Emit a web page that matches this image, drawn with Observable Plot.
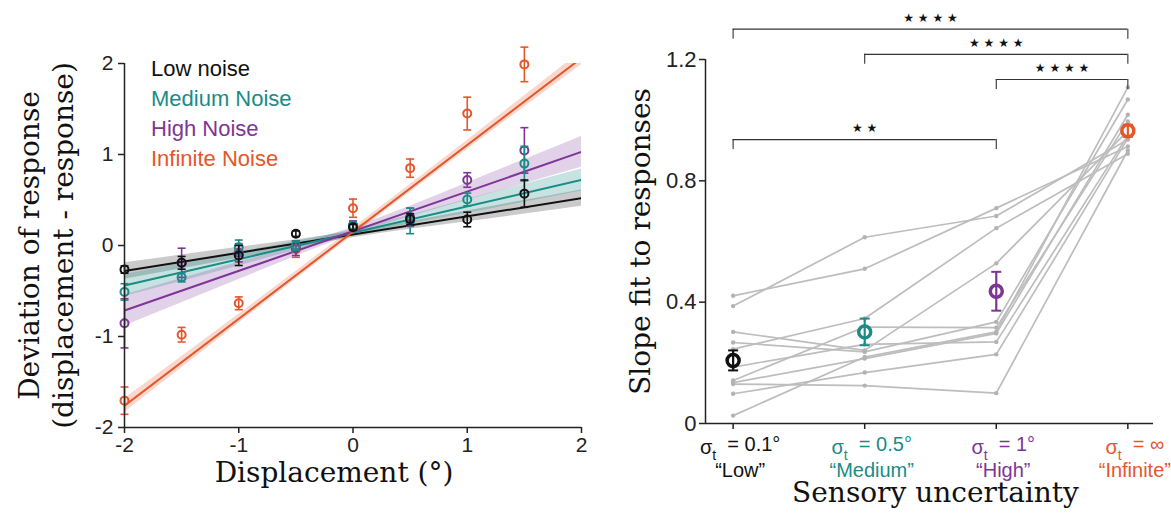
<!DOCTYPE html>
<html><head><meta charset="utf-8">
<script src="https://cdn.jsdelivr.net/npm/d3@7"></script>
<script src="https://cdn.jsdelivr.net/npm/@observablehq/plot@0.6"></script>
<style>
body{margin:0;background:#fff;}
#wrap{position:relative;width:1171px;height:516px;overflow:hidden;background:#fff;}
#left{position:absolute;left:0;top:0;}
#right{position:absolute;left:600px;top:0;}
#legend{position:absolute;left:151px;top:54px;font-family:"Liberation Sans",Arial,sans-serif;font-size:22px;line-height:30px;}
svg{overflow:visible;}
</style></head><body>
<div id="wrap"><div id="left"></div><div id="right"></div><div id="legend"></div></div>
<script>
// ---------- LEFT PANEL DATA ----------
const displacement = [-2, -1.5, -1, -0.5, 0, 0.5, 1, 1.5];
const noiseLevels = ["Low noise", "Medium Noise", "High Noise", "Infinite Noise"];
const noiseColors = ["#111111", "#1b8b86", "#7e3596", "#e4572b"];
const bandColors  = ["#8a8a8a", "#1b8b86", "#8a4aa6", "#ec7a55"];
const bandOpacity = [0.45, 0.25, 0.25, 0.3];

const lowMean  = [-0.264, -0.19, -0.11, 0.13, 0.20, 0.29, 0.286, 0.57];
const lowErr   = [0.04, 0.07, 0.11, 0.03, 0.03, 0.06, 0.08, 0.15];
const medMean  = [-0.51, -0.35, -0.02, 0.0, 0.22, 0.27, 0.506, 0.90];
const medErr   = [0.09, 0.05, 0.08, 0.05, 0.04, 0.14, 0.07, 0.19];
const highMean = [-0.855, -0.19, -0.08, -0.03, 0.22, 0.31, 0.72, 1.045];
const highErr  = [0.27, 0.16, 0.10, 0.08, 0.05, 0.10, 0.08, 0.25];
const infMean  = [-1.705, -0.98, -0.635, -0.04, 0.41, 0.85, 1.45, 1.99];
const infErr   = [0.15, 0.08, 0.07, 0.09, 0.10, 0.10, 0.18, 0.19];

// linear fits (intercept, slope) and confidence band half-widths
const fitIntercept = [0.12, 0.14, 0.157, 0.15];
const fitSlope     = [0.20, 0.29, 0.436, 0.955];
const bandX        = [-2, -1, 0, 1, 2];
const bandLow      = [0.09, 0.06, 0.035, 0.06, 0.09];
const bandMed      = [0.12, 0.075, 0.035, 0.075, 0.12];
const bandHigh     = [0.17, 0.095, 0.04, 0.095, 0.17];
const bandInf      = [0.075, 0.05, 0.04, 0.05, 0.075];
const fitRange     = [-2, 2];

const leftTicks = [-2, -1, 0, 1, 2];

// ---------- RIGHT PANEL DATA ----------
const uncertaintyLevels = ["Low", "Medium", "High", "Infinite"];
const sigmaValues = ["0.1°", "0.5°", "1°", "∞"];
const levelNames = ["“Low”", "“Medium”", "“High”", "“Infinite”"];
const slopeLow      = [0.387, 0.421, 0.245, 0.302, 0.267, 0.142, 0.135, 0.186, 0.098, 0.026, 0.130];
const slopeMedium   = [0.614, 0.510, 0.346, 0.241, 0.236, 0.318, 0.214, 0.261, 0.168, 0.219, 0.125];
const slopeHigh     = [0.684, 0.710, 0.644, 0.528, 0.335, 0.316, 0.297, 0.269, 0.228, 0.302, 0.100];
const slopeInfinite = [0.936, 0.913, 0.889, 0.965, 1.068, 0.996, 1.018, 0.950, 0.940, 1.108, 0.900];
const slopeMean = [0.208, 0.302, 0.436, 0.965];
const slopeSem  = [0.033, 0.044, 0.064, 0.02];
const rightTicks = [0, 0.4, 0.8, 1.2];

const sigFrom  = [0, 1, 2, 0];
const sigTo    = [3, 3, 3, 2];
const sigLevel = [1.30, 1.217, 1.134, 0.936];
const sigLabel = ["★ ★ ★ ★", "★ ★ ★ ★", "★ ★ ★ ★", "★ ★"];

// ---------- helpers ----------
const capSymbol = {draw(ctx, size) { const w = Math.sqrt(size / Math.PI); ctx.moveTo(-w, 0); ctx.lineTo(w, 0); }};
const sansFont = '"Liberation Sans", Arial, sans-serif';
const serifFont = '"DejaVu Serif", serif';

// ---------- LEFT PANEL ----------
const meanSeries = [lowMean, medMean, highMean, infMean];
const errSeries = [lowErr, medErr, highErr, infErr];
const bandSeries = [bandLow, bandMed, bandHigh, bandInf];

const leftMarks = [];
for (let i = 0; i < 4; i++) {
  const rows = bandX.map((x, j) => {
    const c = fitIntercept[i] + fitSlope[i] * x;
    return {x, lo: c - bandSeries[i][j], hi: c + bandSeries[i][j]};
  });
  leftMarks.push(Plot.areaY(rows, {x: "x", y1: "lo", y2: "hi", fill: bandColors[i], fillOpacity: bandOpacity[i], curve: "natural", clip: true}));
}
for (let i = 0; i < 4; i++) {
  const rows = fitRange.map(x => ({x, y: fitIntercept[i] + fitSlope[i] * x}));
  leftMarks.push(Plot.line(rows, {x: "x", y: "y", stroke: noiseColors[i], strokeWidth: 2, clip: true}));
}
for (let i = 3; i >= 0; i--) {
  const rows = displacement.map((x, j) => ({x, y: meanSeries[i][j], e: errSeries[i][j]}));
  leftMarks.push(Plot.ruleX(rows, {x: "x", y1: d => d.y - d.e, y2: d => d.y + d.e, stroke: noiseColors[i], strokeWidth: 1.6}));
  leftMarks.push(Plot.dot(rows, {x: "x", y: d => d.y - d.e, symbol: capSymbol, r: 4, stroke: noiseColors[i], strokeWidth: 1.6}));
  leftMarks.push(Plot.dot(rows, {x: "x", y: d => d.y + d.e, symbol: capSymbol, r: 4, stroke: noiseColors[i], strokeWidth: 1.6}));
  leftMarks.push(Plot.dot(rows, {x: "x", y: "y", r: 4, stroke: noiseColors[i], strokeWidth: 2, fill: "none"}));
}

const leftPlot = Plot.plot({
  width: 600, height: 516,
  marginLeft: 124, marginRight: 19, marginTop: 63, marginBottom: 89,
  x: {domain: [-2, 2]},
  y: {domain: [-2, 2]},
  style: {fontFamily: sansFont, fontSize: "21px", background: "transparent", color: "#222"},
  marks: [
    ...leftMarks,
    Plot.ruleX([-2], {y1: -2, y2: 2, stroke: "#222", strokeWidth: 1.5}),
    Plot.ruleY([-2], {x1: -2, x2: 2, stroke: "#222", strokeWidth: 1.5}),
    Plot.axisX({ticks: leftTicks, tickFormat: d => String(d), tickSize: 6, tickPadding: 4, strokeWidth: 1.5, label: null, fontSize: 21}),
    Plot.axisY({ticks: leftTicks, tickFormat: d => String(d), tickSize: 6, tickPadding: 5, strokeWidth: 1.5, label: null, fontSize: 21}),
    Plot.text(["Deviation of response\n(displacement - response)"], {text: d => d, frameAnchor: "left", textAnchor: "middle", lineAnchor: "middle", rotate: -90, dx: -79, fontFamily: serifFont, fontSize: 28, lineHeight: 1.21, fill: "#111"}),
    Plot.text(["Displacement (°)"], {text: d => d, frameAnchor: "bottom", textAnchor: "middle", lineAnchor: "middle", dx: -19, dy: 46, fontFamily: serifFont, fontSize: 28, fill: "#111"})
  ]
});
document.getElementById("left").appendChild(leftPlot);

// legend
const legend = document.getElementById("legend");
noiseLevels.forEach((name, i) => {
  const div = document.createElement("div");
  div.textContent = name;
  div.style.color = noiseColors[i];
  legend.appendChild(div);
});

// ---------- RIGHT PANEL ----------
const slopeSeries = [slopeLow, slopeMedium, slopeHigh, slopeInfinite];
const subjectRows = [];
slopeLow.forEach((_, s) => {
  slopeSeries.forEach((arr, c) => subjectRows.push({subject: s, c, v: arr[s]}));
});
const meanRows = slopeMean.map((m, c) => ({c, m, e: slopeSem[c]}));
const sigRows = sigFrom.map((f, k) => ({f, t: sigTo[k], y: sigLevel[k], label: sigLabel[k]}));
const legDrop = 0.033;

const rightMarks = [
  Plot.line(subjectRows, {x: "c", y: "v", z: "subject", stroke: "#bdbdbd", strokeWidth: 1.7}),
  Plot.dot(subjectRows, {x: "c", y: "v", r: 2.2, fill: "#b3b3b3"})
];
meanRows.forEach(d => {
  const col = noiseColors[d.c];
  rightMarks.push(Plot.dot([d], {x: "c", y: "m", r: 6, stroke: col, strokeWidth: 3.5, fill: "white"}));
  rightMarks.push(Plot.ruleX([d], {x: "c", y1: r => r.m - r.e, y2: r => r.m + r.e, stroke: col, strokeWidth: 2.2}));
  rightMarks.push(Plot.dot([d], {x: "c", y: r => r.m - r.e, symbol: capSymbol, r: 5, stroke: col, strokeWidth: 2}));
  rightMarks.push(Plot.dot([d], {x: "c", y: r => r.m + r.e, symbol: capSymbol, r: 5, stroke: col, strokeWidth: 2}));
});
rightMarks.push(
  Plot.ruleY(sigRows, {y: "y", x1: "f", x2: "t", stroke: "#333", strokeWidth: 1.1}),
  Plot.ruleX(sigRows, {x: "f", y1: "y", y2: d => d.y - legDrop, stroke: "#333", strokeWidth: 1.1}),
  Plot.ruleX(sigRows, {x: "t", y1: "y", y2: d => d.y - legDrop, stroke: "#333", strokeWidth: 1.1}),
  Plot.text(sigRows, {x: d => (d.f + d.t) / 2, y: "y", text: "label", dy: -11, fontSize: 12, fontFamily: '"DejaVu Sans", sans-serif', fill: "#111"})
);
uncertaintyLevels.forEach((lvl, c) => {
  rightMarks.push(Plot.text([c], {x: d => d, y: () => 0, text: () => `σt = ${sigmaValues[c]}\n${levelNames[c]}`, lineAnchor: "top", dy: 12, dx: 7, fontSize: 20, lineHeight: 1.3, fill: noiseColors[c], fontFamily: sansFont}));
});

const rightPlot = Plot.plot({
  width: 571, height: 516,
  marginLeft: 105, marginRight: 18, marginTop: 59, marginBottom: 93,
  x: {domain: [-0.21, 3.195]},
  y: {domain: [0, 1.2]},
  style: {fontFamily: sansFont, fontSize: "21px", background: "transparent", color: "#222"},
  marks: [
    ...rightMarks,
    Plot.ruleX([-0.21], {y1: 0, y2: 1.2, stroke: "#222", strokeWidth: 1.5}),
    Plot.ruleY([0], {x1: -0.21, x2: 3.195, stroke: "#222", strokeWidth: 1.5}),
    Plot.axisX({ticks: [0, 1, 2, 3], tickFormat: () => "", tickSize: 6, strokeWidth: 1.5, label: null}),
    Plot.axisY({ticks: rightTicks, tickFormat: d => String(d), tickSize: 6, tickPadding: 3, strokeWidth: 1.5, label: null, fontSize: 22}),
    Plot.text(["Slope fit to responses"], {text: d => d, frameAnchor: "left", textAnchor: "middle", lineAnchor: "middle", rotate: -90, dx: -64, fontFamily: serifFont, fontSize: 28, fill: "#111"}),
    Plot.text(["Sensory uncertainty"], {text: d => d, frameAnchor: "bottom", textAnchor: "middle", lineAnchor: "middle", dx: 6, dy: 70, fontFamily: serifFont, fontSize: 28, fill: "#111"})
  ]
});
document.getElementById("right").appendChild(rightPlot);

// subscript t on sigma labels
rightPlot.querySelectorAll("tspan").forEach(ts => {
  const txt = ts.textContent;
  if (txt.startsWith("σt")) {
    const rest = txt.slice(2);
    ts.textContent = "";
    const ns = "http://www.w3.org/2000/svg";
    const a = document.createElementNS(ns, "tspan"); a.textContent = "σ";
    const b = document.createElementNS(ns, "tspan"); b.textContent = "t"; b.setAttribute("dy", "0.45em"); b.setAttribute("font-size", "14");
    const c = document.createElementNS(ns, "tspan"); c.textContent = "\u00a0" + rest; c.setAttribute("dy", "-0.45em");
    ts.appendChild(a); ts.appendChild(b); ts.appendChild(c);
  }
});
</script>
</body></html>
